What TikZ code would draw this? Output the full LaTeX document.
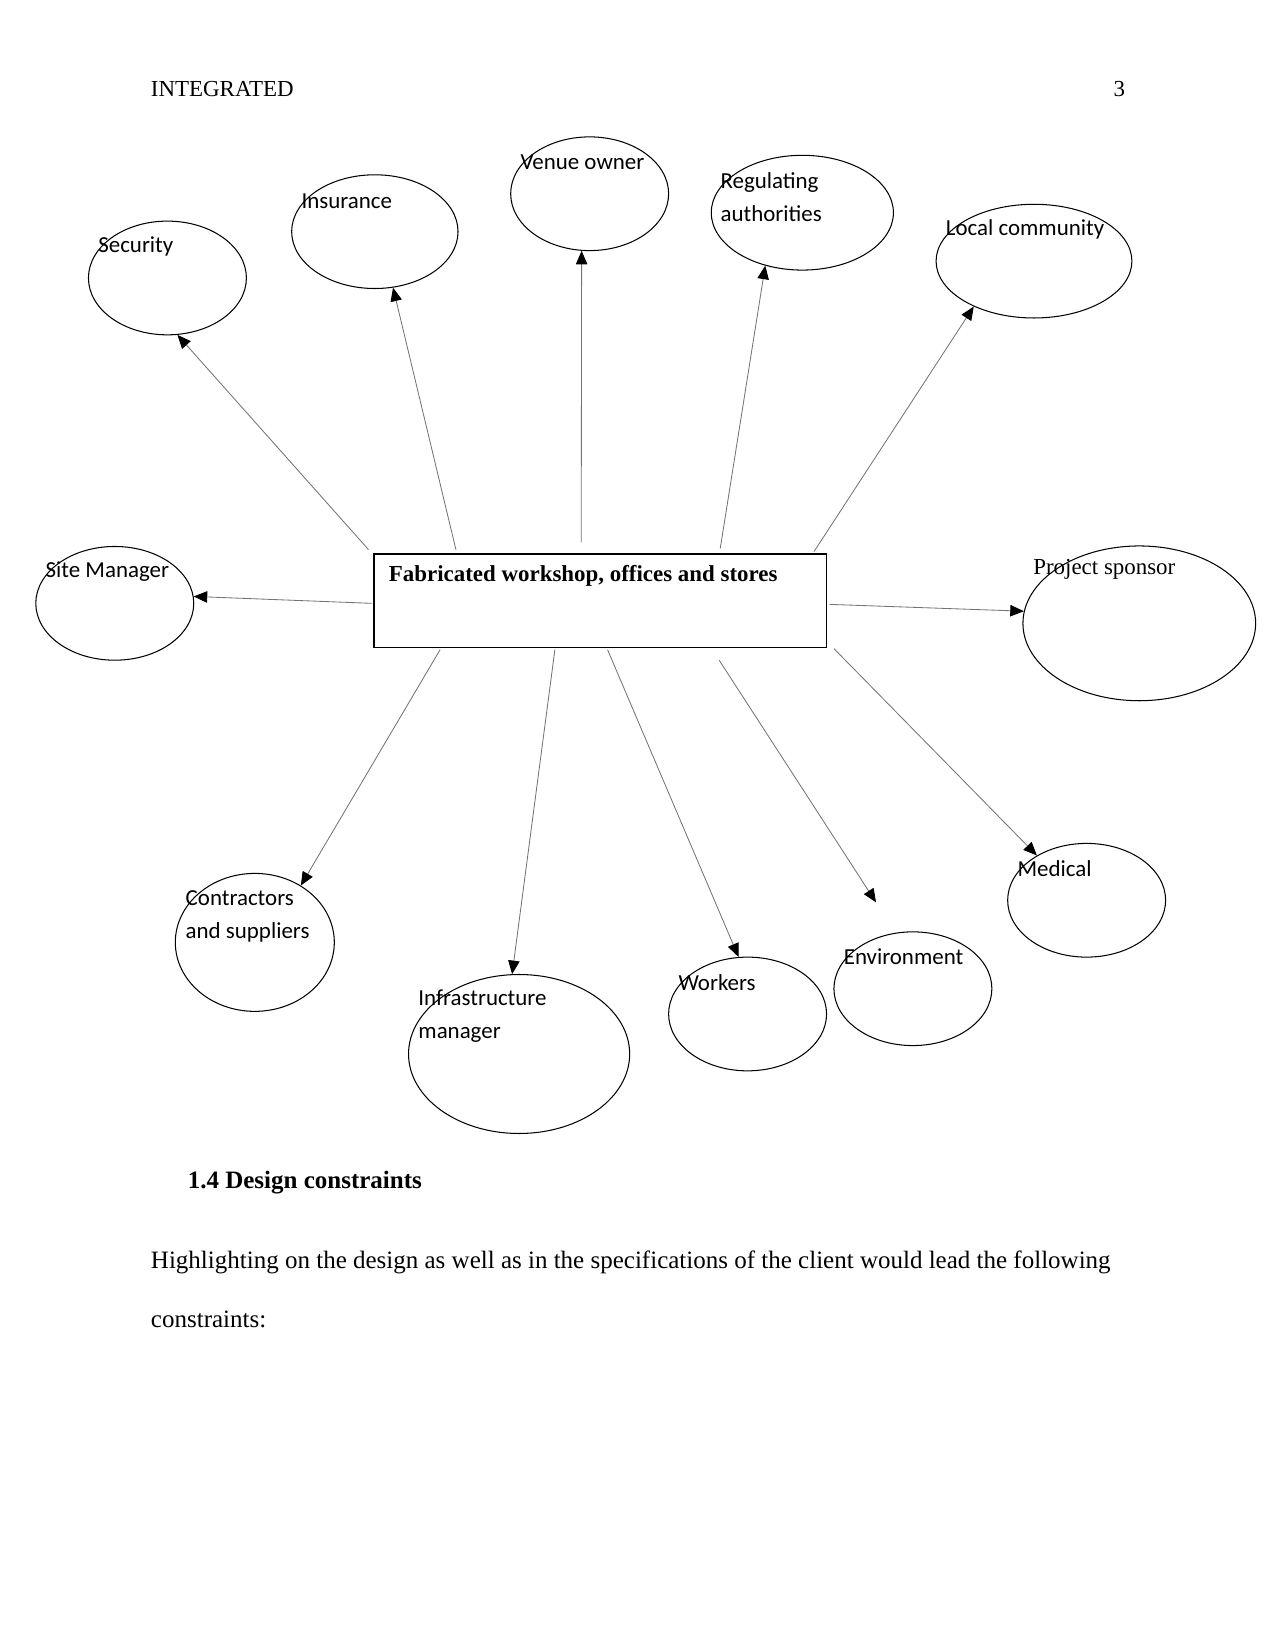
\documentclass[tikz,border=0pt]{standalone}
\usepackage{fontspec}
\setmainfont{Liberation Serif}
\newfontfamily\lblfont{Carlito}
\usetikzlibrary{shapes.geometric,arrows.meta}
\newlength\pu
\setlength\pu{0.50537pt}
\begin{document}
\begin{tikzpicture}[x=0.50537pt,y=-0.50537pt,
  stake/.style={ellipse,draw,line width=0.5pt,inner sep=0pt},
  lbl/.style={anchor=west,inner sep=0pt,font=\lblfont\fontsize{11}{15.7}\selectfont,align=left},
  serif/.style={anchor=west,inner sep=0pt,font=\fontsize{12}{14}\selectfont},
  small/.style={anchor=west,inner sep=0pt,font=\fontsize{11}{13}\selectfont},
  conn/.style={draw=black!55,line width=0.4pt,-{Triangle[length=6.5pt,width=5.5pt,black]}},
  mainbox/.style={draw,line width=0.7pt,minimum width=430*\pu,minimum height=89*\pu,inner sep=0pt}]
\useasboundingbox (0,0) rectangle (1211,1568);
% header
\node[small] (hdr) at (143,85) {INTEGRATED};
\node[small,anchor=east] (pg) at (1069,85) {3};
% central box
\node[mainbox] (box) at (570,570.5) {};
\node[small,font=\bfseries\fontsize{11}{13}\selectfont] (boxt) at (369,547) {Fabricated workshop, offices and stores};
% ellipses
\node[stake,minimum width=150*\pu,minimum height=108*\pu] (sec) at (159,264) {};
\node[stake,minimum width=158*\pu,minimum height=108*\pu] (ins) at (356,220) {};
\node[stake,minimum width=150*\pu,minimum height=108*\pu] (ven) at (560,184) {};
\node[stake,minimum width=173*\pu,minimum height=109*\pu] (reg) at (762,202) {};
\node[stake,minimum width=186*\pu,minimum height=108*\pu] (loc) at (982,248) {};
\node[stake,minimum width=150*\pu,minimum height=108*\pu] (site) at (109,573) {};
\node[stake,minimum width=221*\pu,minimum height=147*\pu] (spon) at (1082,592) {};
\node[stake,minimum width=151*\pu,minimum height=131*\pu] (con) at (242,895) {};
\node[stake,minimum width=210*\pu,minimum height=151*\pu] (inf) at (493,1001) {};
\node[stake,minimum width=150*\pu,minimum height=108*\pu] (wor) at (710,963) {};
\node[stake,minimum width=150*\pu,minimum height=108*\pu] (env) at (867,939) {};
\node[stake,minimum width=150*\pu,minimum height=108*\pu] (med) at (1032,855) {};
% labels
\node[lbl] (secl) at (93,234) {Security};
\node[lbl] (insl) at (286,191) {Insurance};
\node[lbl] (venl) at (494,154) {Venue owner};
\node[lbl] (regl) at (684,187) {Regulating\\authorities};
\node[lbl] (locl) at (898,218) {Local community};
\node[lbl] (sitel) at (43,543) {Site Manager};
\node[small] (sponl) at (981,541) {Project sponsor};
\node[lbl] (conl) at (176,870) {Contractors\\and suppliers};
\node[lbl] (infl) at (397,965) {Infrastructure\\manager};
\node[lbl] (worl) at (644,933) {Workers};
\node[lbl] (envl) at (801,909) {Environment};
\node[lbl] (medl) at (966,825) {Medical};
% connector start points
\coordinate (s1) at (350,522);
\coordinate (s2) at (433,522);
\coordinate (s3) at (552,515);
\coordinate (s4) at (684,521);
\coordinate (s5) at (773,524);
\coordinate (s6) at (353,573);
\coordinate (s7) at (788,574);
\coordinate (s8) at (418,617);
\coordinate (s9) at (527,617);
\coordinate (s10) at (577,617);
\coordinate (s11) at (683,627);
\coordinate (s12) at (792,616);
\coordinate (e11) at (832,857);
% connectors
\draw[conn] (s1) -- (sec.-80.5);
\draw[conn] (s2) -- (ins.-72.3);
\draw[conn] (s3) -- (ven.-98.6);
\draw[conn] (s4) -- (reg.-125.3);
\draw[conn] (s5) -- (loc.-143.1);
\draw[conn] (s6) -- (site.5.3);
\draw[conn] (s7) -- (spon.174.5);
\draw[conn] (s8) -- (con.51.7);
\draw[conn] (s9) -- (inf.95.9);
\draw[conn] (s10) -- (wor.99.3);
\draw[conn] (s11) -- (e11);
\draw[conn] (s12) -- (med.138.2);
% text below
\node[serif,font=\bfseries\fontsize{12}{14}\selectfont] (h14) at (178,1123) {1.4 Design constraints};
\node[serif] (p1) at (143,1199) {Highlighting on the design as well as in the specifications of the client would lead the following};
\node[serif] (p2) at (143,1253) {constraints:};
\end{tikzpicture}
\end{document}
